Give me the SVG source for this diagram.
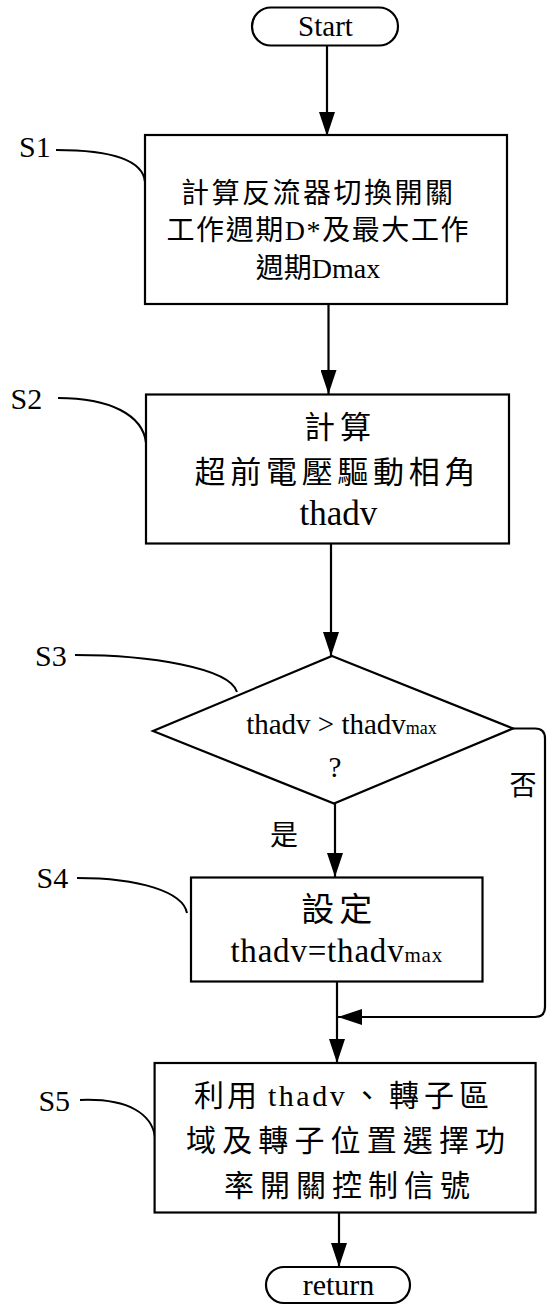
<svg xmlns="http://www.w3.org/2000/svg" width="547" height="1305" viewBox="0 0 547 1305">
<defs>
<marker id="ah" markerUnits="userSpaceOnUse" markerWidth="24" markerHeight="16" refX="24" refY="8" orient="auto">
<path d="M0,0 L24,8 L0,16 Z" fill="#000"/>
</marker>
<style>
.shape{fill:#fff;stroke:#000;stroke-width:2.2}
.conn{fill:none;stroke:#000;stroke-width:2.2}
.lead{fill:none;stroke:#000;stroke-width:2}
.t{font-family:"Liberation Serif","Noto Sans CJK TC",serif;fill:#000;text-anchor:middle}
.ts{font-family:"Liberation Serif","Noto Sans CJK TC",serif;fill:#000;text-anchor:start}
.lbl{font-family:"Liberation Serif",serif;font-size:30px;fill:#000}
</style>
</defs>
<rect width="547" height="1305" fill="#fff"/>
<g id="connectors">
<path class="conn" d="M327,45 V136" marker-end="url(#ah)"/>
<path class="conn" d="M328.5,304 V394" marker-end="url(#ah)"/>
<path class="conn" d="M331,543 V656" marker-end="url(#ah)"/>
<path class="conn" d="M335,803 V877" marker-end="url(#ah)"/>
<path class="conn" d="M337,982 V1063" marker-end="url(#ah)"/>
<path class="conn" d="M512,728.5 H535 Q545,728.5 545,738.5 V1007 Q545,1017 535,1017 H338" marker-end="url(#ah)"/>
<path class="conn" d="M339,1212 V1267" marker-end="url(#ah)"/>
<path class="lead" d="M56,150 C110,150 143,160 145,182"/>
<path class="lead" d="M58,398 C110,398 143,415 146,443"/>
<path class="lead" d="M75,655 C150,655 230,668 237,692"/>
<path class="lead" d="M77,878 C140,878 183,892 187,913"/>
<path class="lead" d="M80,1100 C130,1098 152,1115 155,1137"/>
</g>
<g id="start">
<rect class="shape" x="252" y="7.5" width="146" height="38" rx="19"/>
<text class="t" x="325.5" y="35.5" font-size="29">Start</text>
</g>
<g id="S1">
<rect class="shape" x="145" y="135" width="362" height="169"/>
<text class="t" x="317" y="203" font-size="28" textLength="272" lengthAdjust="spacing">計算反流器切換開關</text>
<text class="t" x="317.5" y="240" font-size="28" textLength="302" lengthAdjust="spacing">工作週期D*及最大工作</text>
<text class="t" x="318" y="278" font-size="28">週期Dmax</text>
<text class="lbl" x="19" y="156.5">S1</text>
</g>
<g id="S2">
<rect class="shape" x="146" y="394.5" width="363" height="149"/>
<text class="t" x="337.5" y="438" font-size="31" textLength="67" lengthAdjust="spacing">計算</text>
<text class="t" x="335" y="483" font-size="31" textLength="281" lengthAdjust="spacing">超前電壓驅動相角</text>
<text class="t" x="338.5" y="525" font-size="35">thadv</text>
<text class="lbl" x="10.5" y="409">S2</text>
</g>
<g id="S3">
<polygon class="shape" points="332,656 513,728.5 334,803.5 153,731"/>
<text class="t" x="341.5" y="733.5" font-size="29">thadv &gt; thadv<tspan font-size="18">max</tspan></text>
<text class="t" x="335" y="776.5" font-size="29">?</text>
<text class="lbl" x="35" y="666">S3</text>
</g>
<g id="S4">
<rect class="shape" x="191" y="877.5" width="291.5" height="104"/>
<text class="t" x="336.7" y="921" font-size="33" textLength="71" lengthAdjust="spacing">設定</text>
<text class="t" x="336.7" y="962" font-size="33" letter-spacing="0.8">thadv=thadv<tspan font-size="21">max</tspan></text>
<text class="lbl" x="36.6" y="888">S4</text>
</g>
<g id="S5">
<rect class="shape" x="154.6" y="1063" width="381" height="149.5"/>
<text class="ts" y="1106" font-size="30"><tspan x="194" letter-spacing="3">利用</tspan><tspan x="268" letter-spacing="2.5">thadv</tspan><tspan x="352">、</tspan><tspan x="389" letter-spacing="5">轉子區</tspan></text>
<text class="t" x="345.5" y="1151" font-size="30" textLength="319" lengthAdjust="spacing">域及轉子位置選擇功</text>
<text class="t" x="347" y="1196" font-size="30" textLength="246" lengthAdjust="spacing">率開關控制信號</text>
<text class="lbl" x="38.4" y="1111">S5</text>
</g>
<g id="return">
<rect class="shape" x="266" y="1267" width="144" height="36" rx="18"/>
<text class="t" x="338.5" y="1295" font-size="30">return</text>
</g>
<g id="labels">
<text class="t" x="284" y="845" font-size="28">是</text>
<text class="t" x="523" y="795" font-size="27">否</text>
</g>
</svg>
